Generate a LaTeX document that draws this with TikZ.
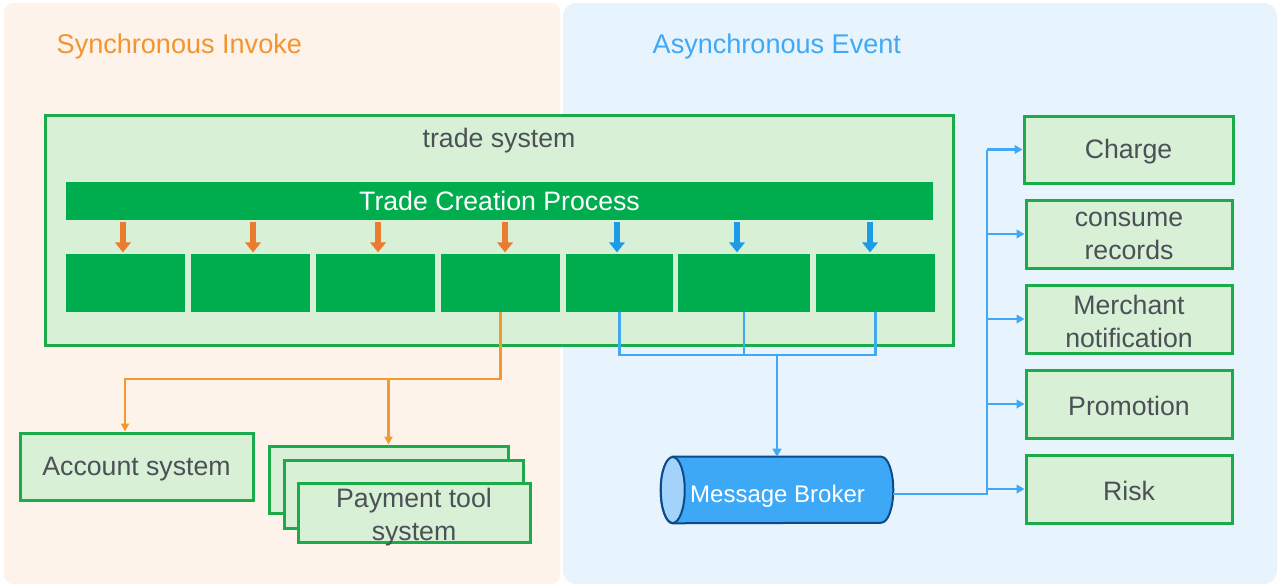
\documentclass[tikz,border=0pt]{standalone}
\usepackage{fontspec}
\setmainfont{Liberation Sans}
\usetikzlibrary{arrows.meta,calc}
\definecolor{leftbg}{HTML}{FDF3EA}
\definecolor{rightbg}{HTML}{E7F4FE}
\definecolor{gfill}{HTML}{D8F0D5}
\definecolor{gborder}{HTML}{1CAB4B}
\definecolor{pgreen}{HTML}{00AD4E}
\definecolor{tgray}{HTML}{4B5157}
\definecolor{titleO}{HTML}{F29530}
\definecolor{titleB}{HTML}{3FA9F5}
\definecolor{arrO}{HTML}{EB7B2F}
\definecolor{lineO}{HTML}{F29A2E}
\definecolor{arrB}{HTML}{1D9BE6}
\definecolor{lineB}{HTML}{42A8F4}
\definecolor{bfill}{HTML}{3DA8F5}
\definecolor{bnavy}{HTML}{0C4A8A}
\definecolor{bface}{HTML}{A3D3FA}
\begin{document}
\begin{tikzpicture}[x=0.75pt,y=-0.75pt,
  bigfont/.style={font=\fontsize{20}{24.5}\selectfont},
  gbox/.style={draw=gborder, fill=gfill, line width=2.25pt, inner sep=0pt},
  glbl/.style={text=tgray, bigfont, align=center, yshift=-1.6pt},
  pbox/.style={fill=pgreen, inner sep=0pt, minimum height=43.5pt},
  thickO/.style={draw=arrO, line width=4pt, -{Triangle[length=7.5pt,width=11.5pt]}, shorten <=1.5pt, shorten >=1pt},
  thickB/.style={draw=arrB, line width=4pt, -{Triangle[length=7.5pt,width=11.5pt]}, shorten <=1.5pt, shorten >=1pt},
  oline/.style={draw=lineO, line width=1.6pt, -{Triangle[length=6pt,width=6pt]}},
  bline/.style={draw=lineB, line width=1.8pt},
  barrow/.style={draw=lineB, line width=1.8pt, -{Triangle[length=6pt,width=6.5pt]}}
]
\useasboundingbox (0,0) rectangle (1280,587);
\fill[white] (0,0) rectangle (1280,587);
\fill[leftbg, rounded corners=7pt] (4,3) rectangle (560,584);
\fill[rightbg, rounded corners=10pt] (563,3) rectangle (1277,584);

\node[anchor=base west, text=titleO, font=\fontsize{20.3}{24.5}\selectfont] (sync) at (52,53) {Synchronous Invoke};
\node[anchor=base west, text=titleB, font=\fontsize{20.3}{24.5}\selectfont] (async) at (648,53) {Asynchronous Event};

% trade system
\node[gbox, minimum width=681pt, minimum height=172.5pt] (trade) at (499,230) {};
\node[anchor=base, text=tgray, bigfont] (tradelbl) at (499,147) {trade system};
\node[fill=pgreen, minimum width=650.25pt, minimum height=28.5pt, inner sep=0pt, text=white, bigfont] (proc) at (499.5,201) {Trade Creation Process};

\node[pbox, minimum width=89.25pt] (b1) at (125.5,283) {};
\node[pbox, minimum width=89.25pt] (b2) at (250.5,283) {};
\node[pbox, minimum width=89.25pt] (b3) at (375.5,283) {};
\node[pbox, minimum width=89.25pt] (b4) at (500.5,283) {};
\node[pbox, minimum width=80.25pt] (b5) at (619.5,283) {};
\node[pbox, minimum width=99pt] (b6) at (744,283) {};
\node[pbox, minimum width=89.25pt] (b7) at (875.5,283) {};

\draw[thickO] ([xshift=-1.9pt]b1.north |- proc.south) -- ([xshift=-1.9pt]b1.north);
\draw[thickO] ([xshift=1.9pt]b2.north |- proc.south) -- ([xshift=1.9pt]b2.north);
\draw[thickO] ([xshift=1.9pt]b3.north |- proc.south) -- ([xshift=1.9pt]b3.north);
\draw[thickO] ([xshift=3.4pt]b4.north |- proc.south) -- ([xshift=3.4pt]b4.north);
\draw[thickB] ([xshift=-1.9pt]b5.north |- proc.south) -- ([xshift=-1.9pt]b5.north);
\draw[thickB] ([xshift=-5.25pt]b6.north |- proc.south) -- ([xshift=-5.25pt]b6.north);
\draw[thickB] ([xshift=-4.1pt]b7.north |- proc.south) -- ([xshift=-4.1pt]b7.north);

% synchronous targets
\node[gbox, minimum width=174.75pt, minimum height=50.25pt, label={[glbl]center:Account system}] (acct) at (136.5,466.5) {};
\node[gbox, minimum width=179.25pt, minimum height=50.25pt] (payA) at (388.5,479.5) {};
\node[gbox, minimum width=179.25pt, minimum height=51pt] (payB) at (403.5,494) {};
\node[gbox, minimum width=174pt, minimum height=44.25pt] (payC) at (414,513) {};
\node[text=tgray, bigfont, align=center] (paylbl) at (414,517) {Payment tool\\system};

\coordinate (oj) at (500,379);
\draw[oline] (b4.south) -- (b4.south |- oj) -| ([xshift=-8.6pt]acct.north);
\draw[oline] (payA.north |- oj) -- (payA.north);

% message broker
\node[minimum width=174pt, minimum height=49.5pt, inner sep=0pt] (broker) at (777,490) {};
\draw[bnavy, fill=bfill, line width=1.5pt] ([xshift=9pt]broker.north west) -- ([xshift=-9pt]broker.north east)
  arc[start angle=90, end angle=-90, x radius=9pt, y radius=24.75pt]
  -- ([xshift=9pt]broker.south west)
  arc[start angle=270, end angle=90, x radius=9pt, y radius=24.75pt] -- cycle;
\draw[bnavy, fill=bface, line width=1.5pt] ([xshift=9pt]broker.west) ellipse [x radius=9pt, y radius=24.75pt];
\node[text=white, font=\fontsize{18}{22}\selectfont] (brokerlbl) at ([xshift=0.4pt,yshift=-5pt]broker.center) {Message Broker};

\coordinate (bj) at (779,355);
\draw[bline] (b5.south) |- (b7.south |- bj) -- (b7.south);
\draw[bline] (b6.south) -- (b6.south |- bj);
\draw[barrow] (broker.north |- bj) -- (broker.north);

% asynchronous targets
\node[gbox, minimum width=156.75pt, minimum height=50.25pt, label={[glbl]center:Charge}] (charge) at (1128.5,149.5) {};
\node[gbox, minimum width=154.5pt, minimum height=51pt, label={[glbl]center:{consume\\records}}] (consume) at (1129,234) {};
\node[gbox, minimum width=154.5pt, minimum height=51pt, label={[glbl]center:{Merchant\\notification}}] (merchant) at (1129,319) {};
\node[gbox, minimum width=154.5pt, minimum height=51pt, label={[glbl]center:Promotion}] (promo) at (1129,404) {};
\node[gbox, minimum width=154.5pt, minimum height=51pt, label={[glbl]center:Risk}] (risk) at (1129,489) {};

\coordinate (bus) at (987,0);
\draw[bline] ([yshift=-3pt]broker.east) -| (bus |- charge.west);
\draw[barrow] (bus |- charge.west) -- (charge.west);
\draw[barrow] (bus |- consume.west) -- (consume.west);
\draw[barrow] (bus |- merchant.west) -- (merchant.west);
\draw[barrow] (bus |- promo.west) -- (promo.west);
\draw[barrow] (bus |- risk.west) -- (risk.west);
\end{tikzpicture}
\end{document}
